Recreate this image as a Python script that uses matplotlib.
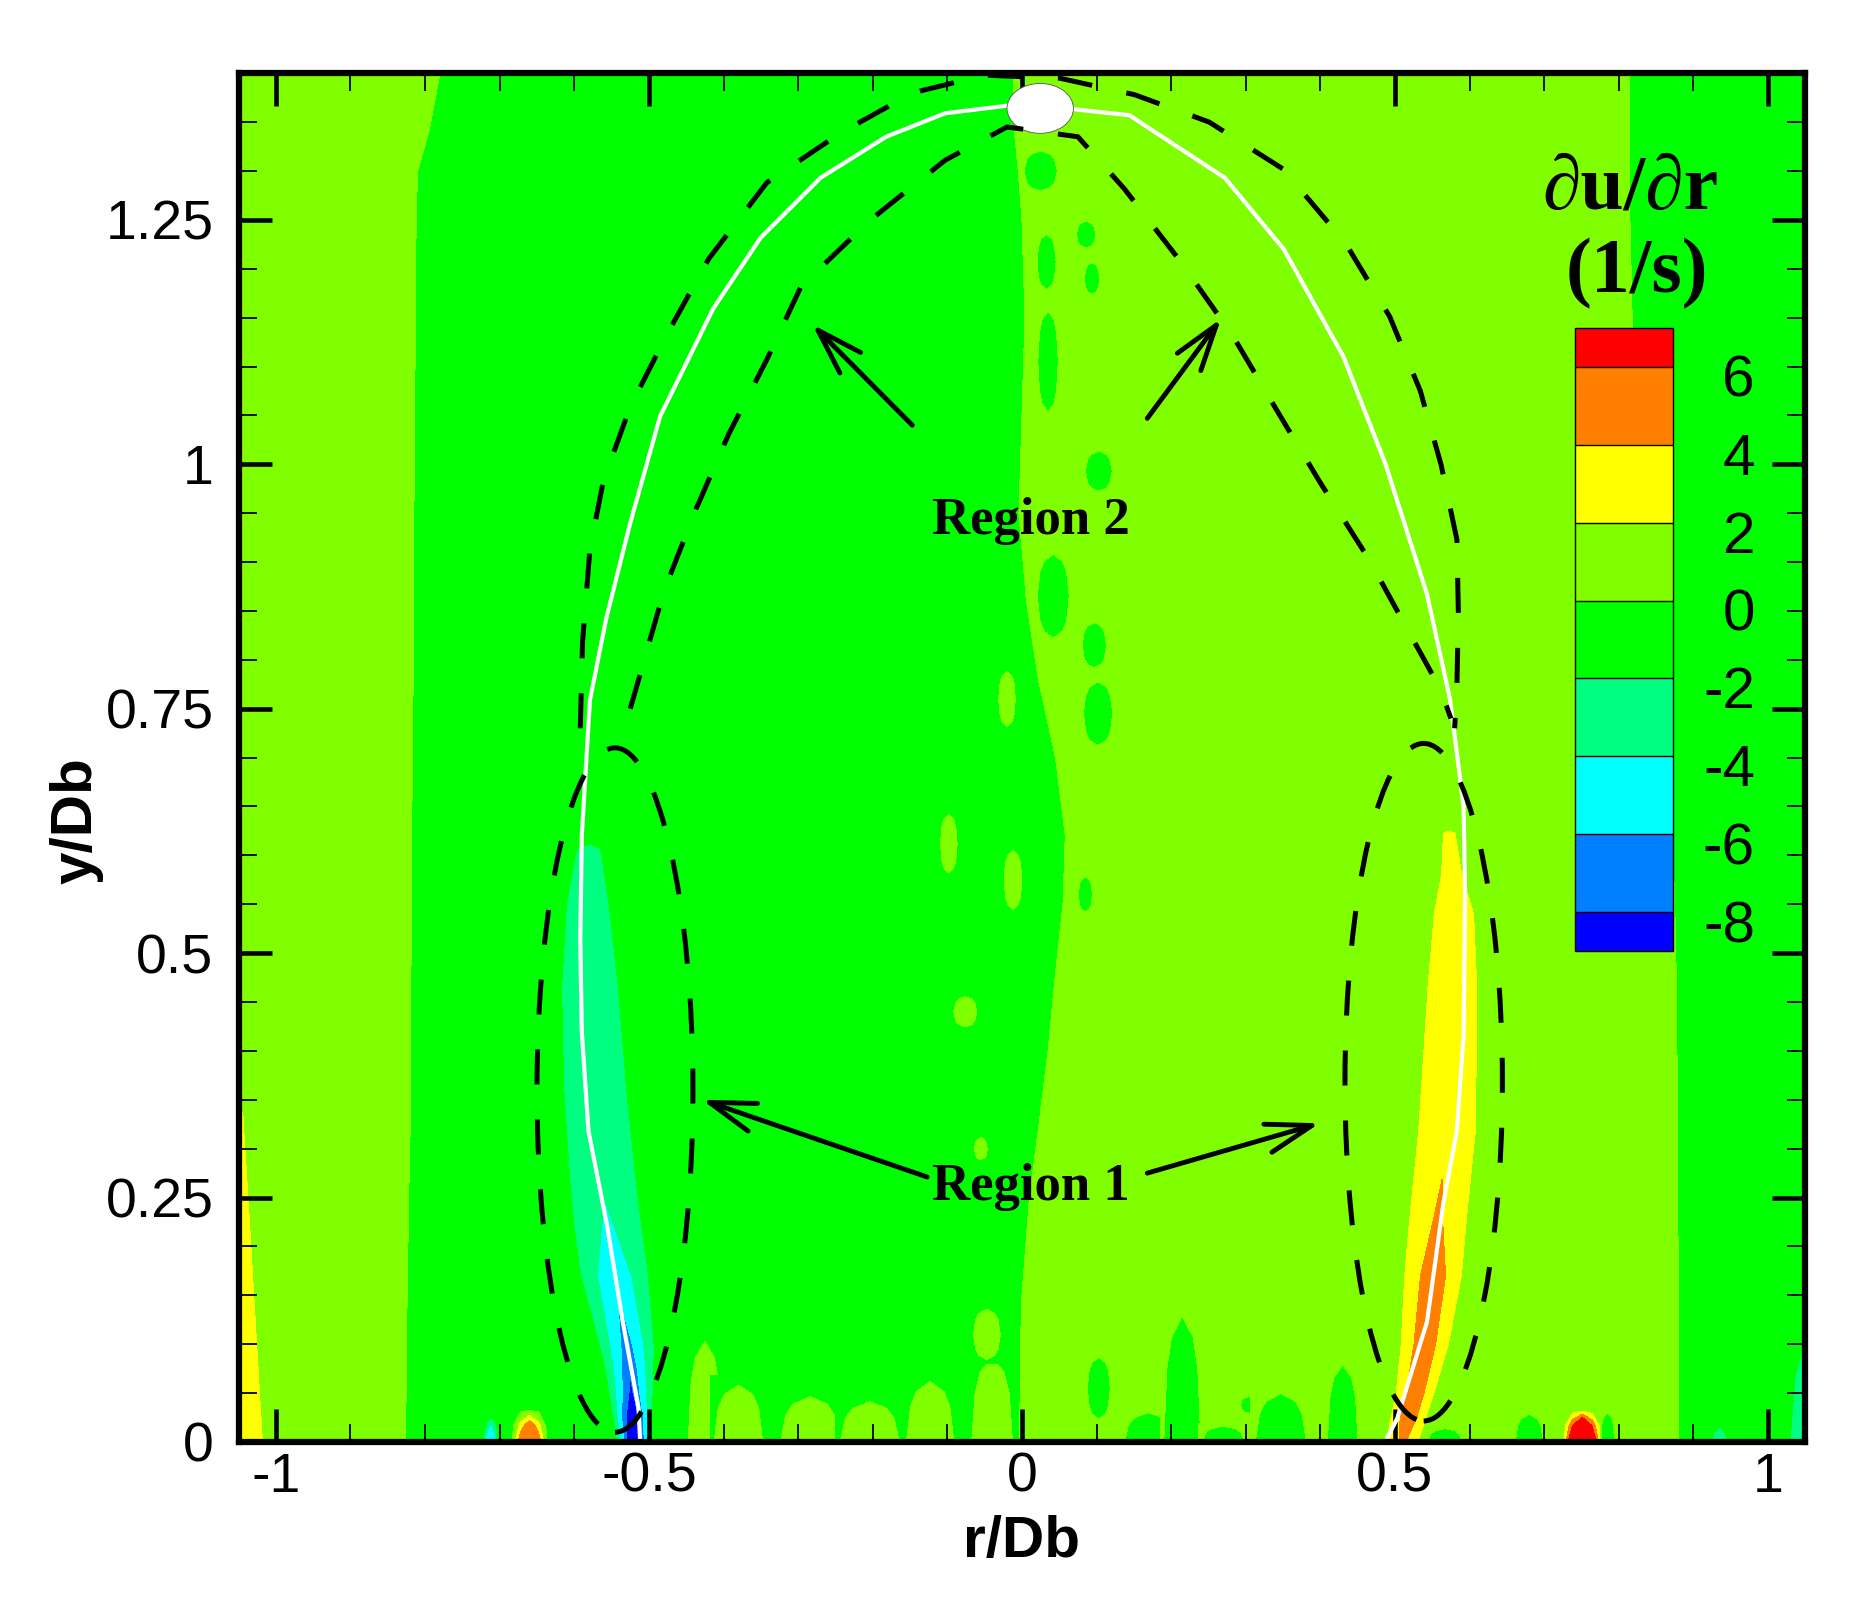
import numpy as np
import matplotlib
matplotlib.use("Agg")
import matplotlib.pyplot as plt
from matplotlib.colors import ListedColormap, BoundaryNorm
from matplotlib.patches import Ellipse
from matplotlib.ticker import MultipleLocator
from matplotlib.transforms import ScaledTranslation

plt.rcParams["axes.unicode_minus"] = False
plt.rcParams["font.family"] = ["Liberation Sans", "DejaVu Sans"]
SERIF = ["Liberation Serif", "DejaVu Serif"]

# ── contour levels (Tecplot style rainbow) ──
LEVELS = [-8, -6, -4, -2, 0, 2, 4, 6]
BAND_COLORS = ["#0080ff", "#00ffff", "#00ff80", "#00ff00", "#80ff00", "#ffff00", "#ff8000"]
UNDER_COLOR = "#0000ff"
OVER_COLOR = "#ff0000"
LIGHT, DARK = 0.6, -0.6          # background values either side of 0

# ── background bands: boundaries (r/Db) read at each height ──
bg_y  = [0.00, 0.10, 0.15, 0.25, 0.32, 0.40, 0.48, 0.55, 0.62, 0.70,
         0.78, 0.86, 0.95, 1.05, 1.15, 1.25, 1.30, 1.34, 1.40]
bg_b1 = [-0.826, -0.825, -0.824, -0.822, -0.820, -0.820, -0.819, -0.818, -0.818, -0.817,
         -0.816, -0.815, -0.815, -0.814, -0.813, -0.812, -0.810, -0.795, -0.780]
bg_b2 = [-0.003, -0.002, 0.000, 0.010, 0.022, 0.035, 0.045, 0.055, 0.058, 0.045,
         0.022, 0.006, -0.004, 0.000, 0.004, 0.000, -0.005, -0.010, -0.012]
bg_b3 = [0.880, 0.880, 0.880, 0.879, 0.879, 0.878, 0.877, 0.875, 0.872, 0.868,
         0.860, 0.850, 0.840, 0.828, 0.818, 0.815, 0.815, 0.815, 0.815]

# ── shear strip on the left bubble edge (negative) ──
ls_y  = [0.00, 0.025, 0.05, 0.075, 0.10, 0.17, 0.22, 0.27, 0.36, 0.465, 0.55, 0.60, 0.64]
ls_xc = [-0.520, -0.522, -0.524, -0.526, -0.530, -0.546, -0.555, -0.562, -0.572, -0.579, -0.582, -0.581, -0.580]
ls_hw = [0.022, 0.025, 0.028, 0.031, 0.035, 0.043, 0.043, 0.042, 0.040, 0.036, 0.027, 0.017, 0.007]
ls_vc = [-12.0, -11.0, -8.6, -7.8, -7.0, -5.8, -4.4, -3.6, -3.3, -3.2, -3.0, -2.6, -0.6]
ls_vm = [-2.4, -2.4, -2.4, -2.4, -2.4, -2.4, -2.4, -2.4, -2.4, -2.4, -2.4, -2.3, -0.6]

# ── shear strip on the right bubble edge (positive) ──
rs_y  = [0.00, 0.025, 0.05, 0.10, 0.17, 0.23, 0.32, 0.465, 0.54, 0.58, 0.62, 0.66]
rs_xc = [0.510, 0.518, 0.527, 0.540, 0.551, 0.558, 0.570, 0.577, 0.579, 0.576, 0.573, 0.570]
rs_hw = [0.020, 0.022, 0.024, 0.030, 0.036, 0.036, 0.036, 0.031, 0.025, 0.013, 0.008, 0.004]
rs_vc = [4.5, 5.6, 5.6, 5.5, 5.4, 4.3, 3.6, 3.5, 3.3, 2.6, 2.2, 0.6]
rs_vm = [2.4, 2.4, 2.4, 2.4, 2.4, 2.4, 2.4, 2.4, 2.4, 2.3, 2.1, 0.6]

# ── thin positive wedge along the left border ──
le_y  = [0.00, 0.12, 0.24, 0.33, 0.40]
le_xc = [-1.050, -1.050, -1.050, -1.050, -1.050]
le_hw = [0.031, 0.022, 0.013, 0.006, 0.003]
le_vc = [3.4, 3.2, 2.9, 2.4, 0.6]
le_vm = [2.2, 2.2, 2.2, 2.1, 0.6]

# ── small patches: (r, y, half width, half height, peak, local background) ──
patches_light = [  # light-green islands in the green zone
    (-0.425, 0.000, 0.026, 0.120, 1.5, DARK), (-0.380, 0.000, 0.038, 0.068, 1.5, DARK),
    (-0.284, 0.000, 0.046, 0.054, 1.5, DARK), (-0.204, 0.000, 0.046, 0.048, 1.5, DARK),
    (-0.123, 0.000, 0.037, 0.072, 1.5, DARK), (-0.040, 0.000, 0.032, 0.100, 1.5, DARK),
    (-0.047, 0.110, 0.021, 0.030, 1.5, DARK), (-0.098, 0.612, 0.013, 0.035, 1.5, DARK),
    (-0.076, 0.440, 0.018, 0.018, 1.5, DARK), (-0.055, 0.300, 0.010, 0.013, 1.5, DARK),
    (-0.012, 0.575, 0.014, 0.035, 1.5, DARK), (-0.020, 0.760, 0.013, 0.033, 1.5, DARK),
]
patches_green = [  # green islands in the light-green zone
    (0.103, 0.055, 0.018, 0.037, -1.5, LIGHT), (0.170, 0.000, 0.038, 0.035, -1.5, LIGHT),
    (0.215, 0.000, 0.029, 0.150, -1.5, LIGHT), (0.270, 0.000, 0.033, 0.019, -1.5, LIGHT),
    (0.305, 0.038, 0.014, 0.010, -1.5, LIGHT), (0.347, 0.000, 0.040, 0.058, -1.5, LIGHT),
    (0.430, 0.000, 0.024, 0.092, -1.5, LIGHT), (0.567, 0.000, 0.027, 0.016, -1.5, LIGHT),
    (0.680, 0.000, 0.022, 0.033, -1.5, LIGHT), (0.785, 0.000, 0.011, 0.035, -1.5, LIGHT),
    (0.033, 1.207, 0.015, 0.033, -1.5, LIGHT), (0.086, 1.235, 0.015, 0.016, -1.5, LIGHT),
    (0.094, 1.190, 0.012, 0.019, -1.5, LIGHT), (0.035, 1.105, 0.016, 0.060, -1.5, LIGHT),
    (0.103, 0.993, 0.021, 0.024, -1.5, LIGHT), (0.042, 0.865, 0.025, 0.050, -1.5, LIGHT),
    (0.097, 0.815, 0.019, 0.027, -1.5, LIGHT), (0.102, 0.745, 0.023, 0.038, -1.5, LIGHT),
    (0.025, 1.300, 0.026, 0.024, -1.5, LIGHT), (0.085, 0.560, 0.011, 0.021, -1.5, LIGHT),
]
spots = [  # strong spots at the wall and the right border
    (-0.660, 0.0, 0.024, 0.034, 5.9, DARK), (-0.712, 0.0, 0.012, 0.030, -5.0, DARK),
    (0.751, 0.0, 0.026, 0.034, 11.0, LIGHT), (0.935, 0.0, 0.014, 0.020, -3.5, DARK),
    (1.050, 0.0, 0.028, 0.140, -3.2, DARK),
]

# ── bubble outline (white) ──
bubble_r = [-0.512, -0.514, -0.535, -0.556, -0.581, -0.590, -0.592, -0.590, -0.579, -0.557,
            -0.525, -0.485, -0.414, -0.350, -0.270, -0.182, -0.103, -0.007, 0.072, 0.144,
            0.272, 0.351, 0.431, 0.487, 0.543, 0.574, 0.592, 0.594, 0.592, 0.583,
            0.565, 0.543, 0.503, 0.490]
bubble_y = [0.005, 0.035, 0.123, 0.221, 0.318, 0.420, 0.514, 0.620, 0.759, 0.843,
            0.940, 1.049, 1.159, 1.232, 1.293, 1.335, 1.359, 1.368, 1.363, 1.357,
            1.293, 1.220, 1.110, 1.001, 0.867, 0.759, 0.650, 0.563, 0.416, 0.318,
            0.245, 0.123, 0.024, 0.005]

# ── dashed region-2 arches ──
outer_r = [-0.592, -0.589, -0.579, -0.561, -0.525, -0.475, -0.420, -0.342, -0.243, -0.146,
           -0.050, 0.050, 0.151, 0.251, 0.350, 0.433, 0.493, 0.534, 0.562, 0.583,
           0.585, 0.583, 0.580]
outer_y = [0.730, 0.818, 0.914, 0.983, 1.059, 1.134, 1.210, 1.288, 1.339, 1.380,
           1.398, 1.395, 1.378, 1.350, 1.302, 1.227, 1.151, 1.075, 0.999, 0.923,
           0.848, 0.772, 0.730]
inner_r = [-0.525, -0.480, -0.437, -0.393, -0.342, -0.296, -0.203, -0.103, -0.020, 0.075,
           0.137, 0.212, 0.283, 0.341, 0.400, 0.465, 0.519, 0.561, 0.575]
inner_y = [0.750, 0.870, 0.954, 1.031, 1.107, 1.182, 1.250, 1.311, 1.345, 1.335,
           1.282, 1.208, 1.131, 1.056, 0.981, 0.903, 0.828, 0.770, 0.740]

# ── region-1 ellipses: centre r, centre y, width, height ──
region1_ellipses = [(-0.5455, 0.360, 0.209, 0.700), (0.5385, 0.368, 0.211, 0.693)]

# ── annotation arrows: (tail r, tail y, head r, head y) ──
arrows = [(-0.147, 1.040, -0.281, 1.143), (0.168, 1.047, 0.267, 1.149),
          (-0.127, 0.271, -0.429, 0.350), (0.168, 0.275, 0.399, 0.326)]
labels = [("Region 2", 0.012, 0.942), ("Region 1", 0.012, 0.261)]

xticks = [-1, -0.5, 0, 0.5, 1]
xtick_labels = ["-1", "-0.5", "0", "0.5", "1"]
yticks = [0, 0.25, 0.5, 0.75, 1, 1.25]
ytick_labels = ["0", "0.25", "0.5", "0.75", "1", "1.25"]
cbar_labels = ["-8", "-6", "-4", "-2", "0", "2", "4", "6"]

cmap = ListedColormap(BAND_COLORS)
cmap.set_under(UNDER_COLOR)
cmap.set_over(OVER_COLOR)
norm = BoundaryNorm(LEVELS, cmap.N)
CF = dict(levels=LEVELS, cmap=cmap, norm=norm, extend="both")


def draw_strip(ax, ys, xc, hw, vc, vm, bg):
    offs = np.array([-1.25, -1.0, 0.0, 1.0, 1.25])
    X = np.asarray(xc)[:, None] + np.asarray(hw)[:, None] * offs
    Y = np.repeat(np.asarray(ys)[:, None], len(offs), axis=1)
    bgc = np.full(len(ys), bg)
    Z = np.column_stack([bgc, vm, vc, vm, bgc])
    ax.contourf(X, Y, Z, **CF)


def draw_blob(ax, cx, cy, hw, hh, peak, bg):
    # 5x5 node patch with bevelled inner corners -> rounded island
    xs = [cx - hw, cx - hw / 2, cx, cx + hw / 2, cx + hw]
    ys = [cy - hh, cy - hh / 2, cy, cy + hh / 2, cy + hh]
    Z = np.full((5, 5), bg)
    Z[1:4, 1:4] = peak
    mid = (peak + bg) / 2
    Z[1, 1] = Z[1, 3] = Z[3, 1] = Z[3, 3] = mid
    ax.contourf(xs, ys, Z, **CF)


fig = plt.figure(figsize=(18.64, 16.09), dpi=100)
ax = fig.add_axes([0.128, 0.1038, 0.8405, 0.8507])

# background field
n = len(bg_y)
b1, b2, b3 = np.array(bg_b1), np.array(bg_b2), np.array(bg_b3)
e = 0.004
X = np.column_stack([np.full(n, -1.1), b1 - e, b1 + e, b2 - e, b2 + e, b3 - e, b3 + e, np.full(n, 1.1)])
Y = np.repeat(np.array(bg_y)[:, None], 8, axis=1)
Z = np.tile([LIGHT, LIGHT, DARK, DARK, LIGHT, LIGHT, DARK, DARK], (n, 1))
cf = ax.contourf(X, Y, Z, **CF)

for p in patches_light + patches_green:
    draw_blob(ax, *p)
draw_strip(ax, ls_y, ls_xc, ls_hw, ls_vc, ls_vm, DARK)
draw_strip(ax, rs_y, rs_xc, rs_hw, rs_vc, rs_vm, LIGHT)
draw_strip(ax, le_y, le_xc, le_hw, le_vc, le_vm, LIGHT)
for p in spots:
    draw_blob(ax, *p)

# bubble outline and top marker
ax.plot(bubble_r, bubble_y, color="white", lw=3, zorder=3)
ax.add_patch(Ellipse((0.0245, 1.364), 0.089, 0.051, facecolor="white",
                     edgecolor="#555555", lw=0.6, zorder=3))

dash = dict(color="black", lw=3.6, dashes=(7, 7), zorder=4)
ax.plot(outer_r, outer_y, **dash)
ax.plot(inner_r, inner_y, **dash)
for cx, cy, w, h in region1_ellipses:
    ax.add_patch(Ellipse((cx, cy), w, h, fill=False, edgecolor="black", lw=3.6,
                         linestyle=(0, (7, 7)), zorder=4))

for tx, ty, hx, hy in arrows:
    ax.annotate("", xy=(hx, hy), xytext=(tx, ty),
                arrowprops=dict(arrowstyle="->, head_length=1.1, head_width=0.35",
                                lw=3.5, color="black", mutation_scale=30,
                                shrinkA=0, shrinkB=0), zorder=5)
for txt, tx, ty in labels:
    ax.text(tx, ty, txt, ha="center", va="center", fontsize=38, fontweight="bold",
            family=SERIF, zorder=5)

ax.set_xlim(-1.05, 1.05)
ax.set_ylim(0, 1.4)
ax.set_xticks(xticks)
ax.set_xticklabels(xtick_labels)
ax.set_yticks(yticks)
ax.set_yticklabels(ytick_labels)
ax.xaxis.set_minor_locator(MultipleLocator(0.1))
ax.yaxis.set_minor_locator(MultipleLocator(0.05))
ax.tick_params(which="both", direction="in", top=True, right=True)
ax.tick_params(which="major", length=24, width=3.3, labelsize=40)
ax.tick_params(which="minor", length=13, width=1.3)
ax.tick_params(axis="x", which="major", pad=7)
ax.tick_params(axis="y", which="major", pad=18)
for s in ax.spines.values():
    s.set_linewidth(4.5)
    s.set_zorder(6)

ax.set_xlabel("r/Db", fontsize=42, fontweight="bold")
ax.set_ylabel("y/Db", fontsize=42, fontweight="bold")
ax.xaxis.set_label_coords(0.5, -0.053)
ax.yaxis.set_label_coords(-0.086, 0.454)

# colour legend inside the plot
cax = fig.add_axes([1575 / 1864, 1 - 951 / 1609, 98 / 1864, 623 / 1609])
cb = fig.colorbar(cf, cax=cax, extend="both", extendrect=True, extendfrac=0.5 / 7,
                  drawedges=True, ticks=LEVELS)
cb.ax.set_yticklabels(cbar_labels)
cb.outline.set_linewidth(1.0)
cb.dividers.set_linewidth(1.0)
cb.ax.tick_params(length=0, pad=59, labelsize=42)
shift = ScaledTranslation(0, -0.09, fig.dpi_scale_trans)
for lbl in cb.ax.get_yticklabels():
    lbl.set_horizontalalignment("right")
    lbl.set_transform(lbl.get_transform() + shift)

fig.text(1630 / 1864, 1 - 190 / 1609, "\u2202u/\u2202r", ha="center", va="center",
         fontsize=56, fontweight="bold", family=SERIF)
fig.text(1637 / 1864, 1 - 274 / 1609, "(1/s)", ha="center", va="center",
         fontsize=56, fontweight="bold", family=SERIF)

fig.savefig("out.png", dpi=100)
